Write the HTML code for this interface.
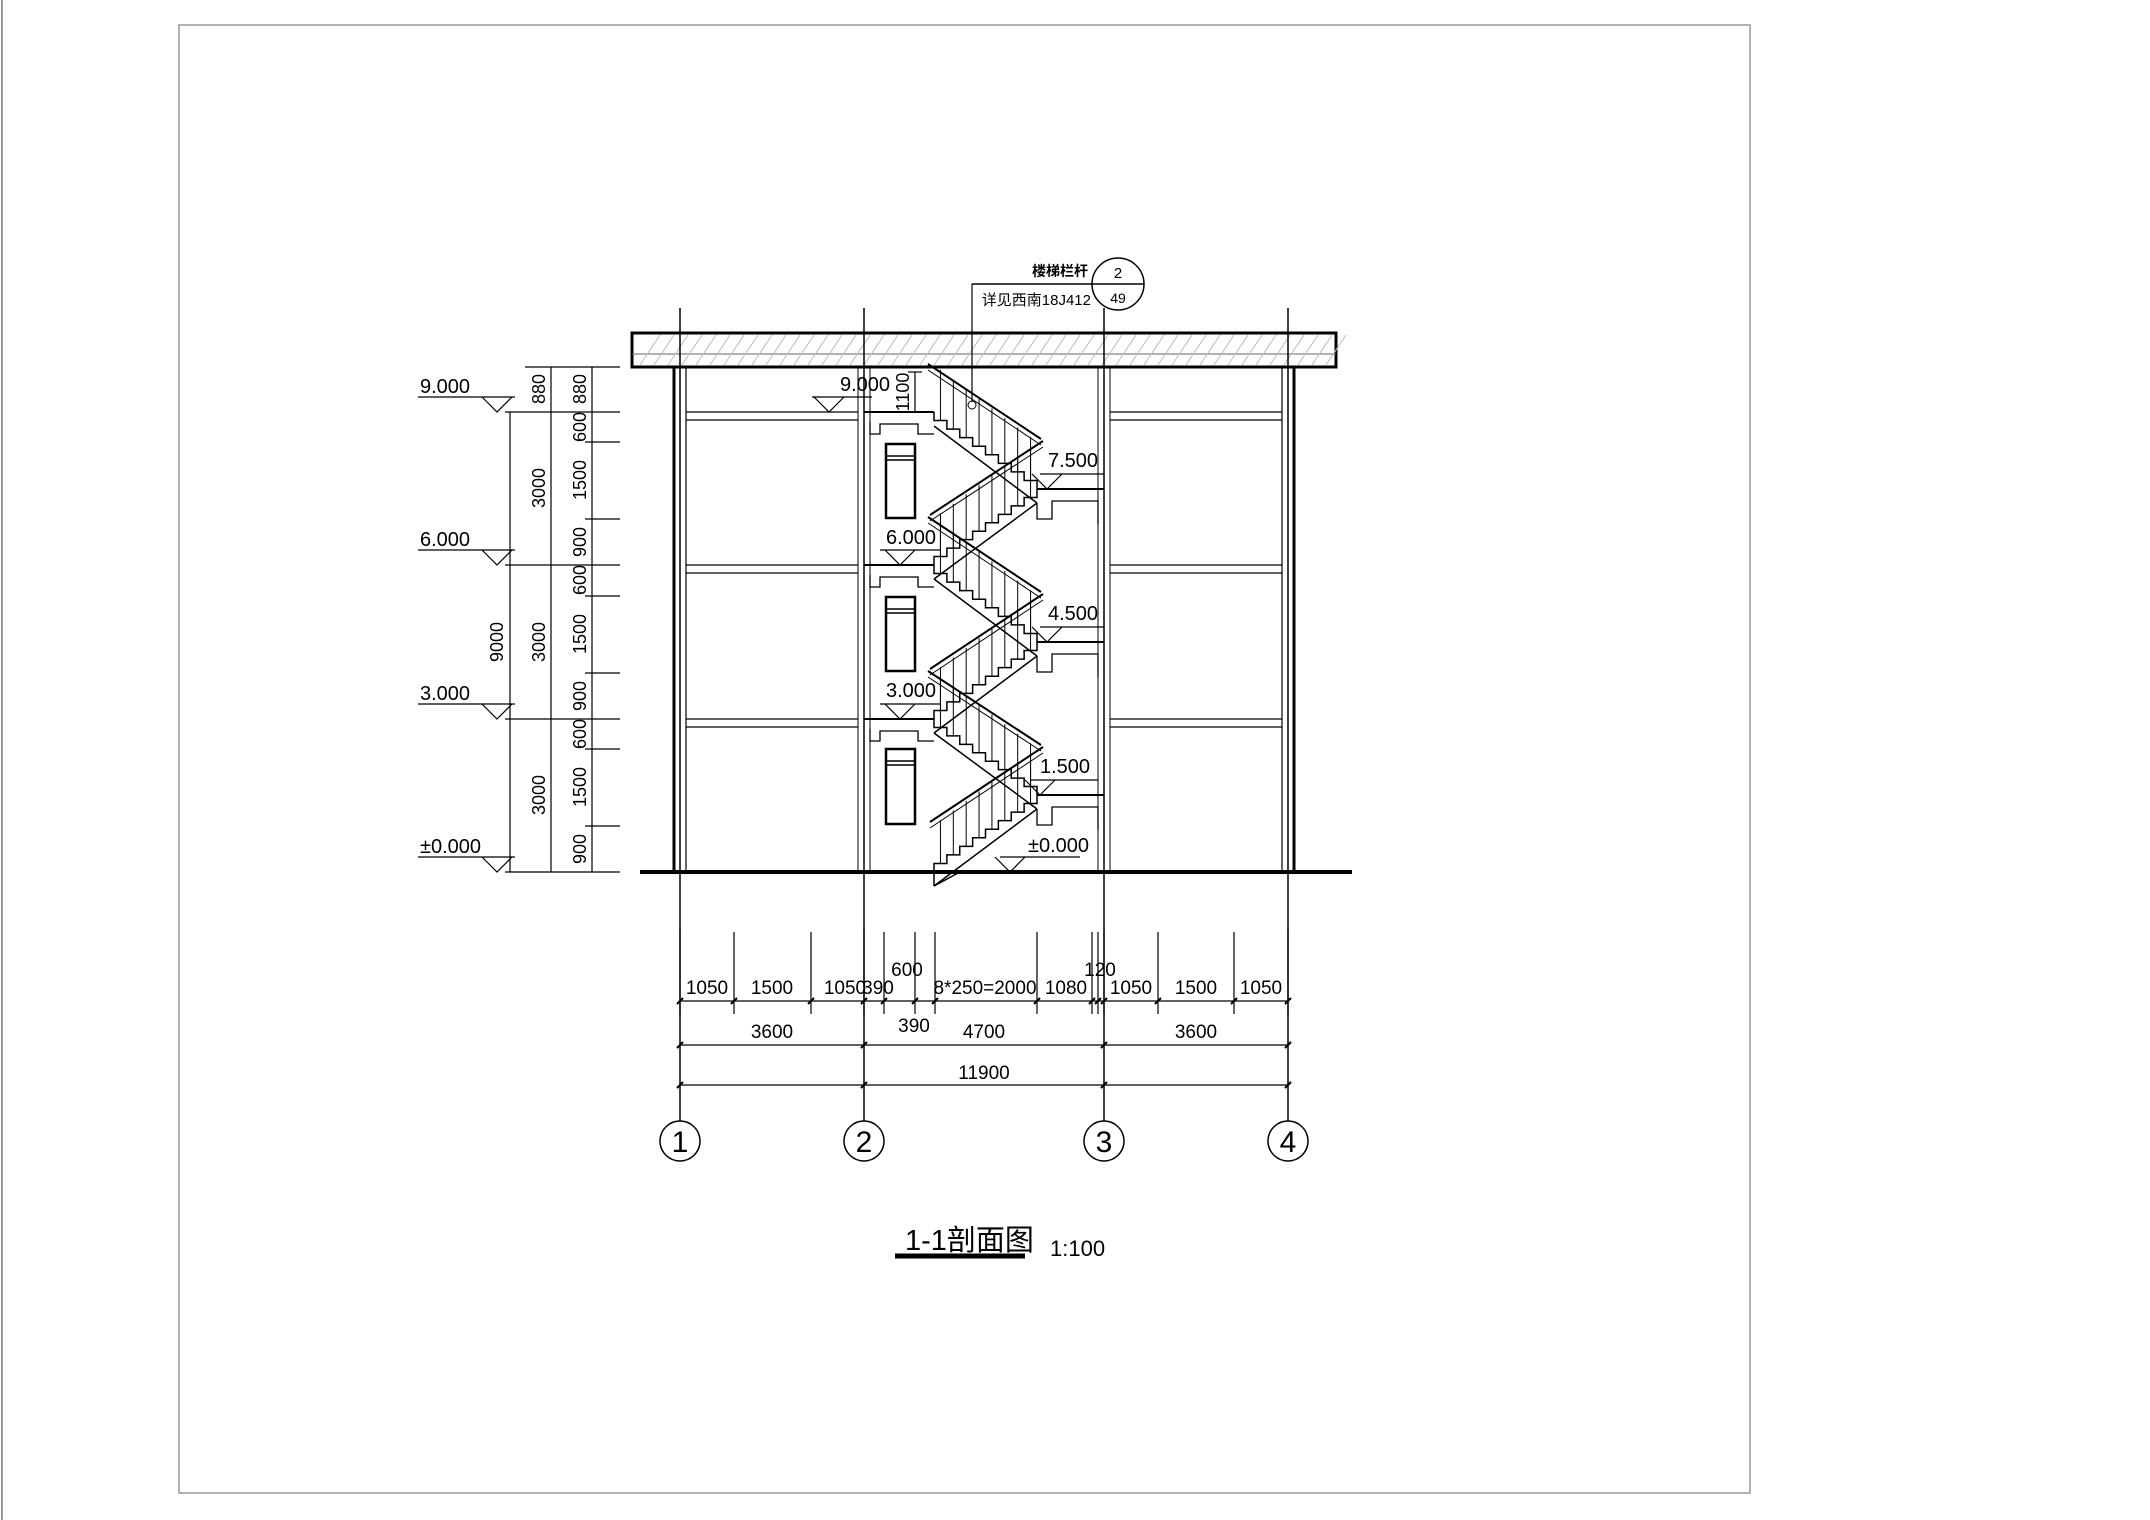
<!DOCTYPE html>
<html><head><meta charset="utf-8"><style>
html,body{margin:0;padding:0;background:#fff;}
svg{display:block}
text{font-family:"Liberation Sans Narrow","Liberation Sans","Noto Sans CJK SC",sans-serif;fill:#000}
</style></head><body>
<svg id="s" width="2150" height="1520" viewBox="0 0 2150 1520" xmlns="http://www.w3.org/2000/svg">
<rect x="0" y="0" width="2150" height="1520" fill="#fff"/>
<line x1="2" y1="0" x2="2" y2="1520" stroke="#999" stroke-width="2"/>
<rect x="179" y="25" width="1571" height="1468" fill="none" stroke="#999" stroke-width="1.5"/>

<g stroke="#000" fill="none">
<rect x="632" y="333" width="704" height="34" stroke-width="3"/>
<line x1="632" y1="354" x2="1336" y2="354" stroke-width="1" stroke="#666"/>
<g id="hatch" stroke="#bbb" stroke-width="1"></g>
<polyline points="674,367 674,872" stroke-width="3"/>
<line x1="686" y1="367" x2="686" y2="872" stroke-width="1.2"/>
<polyline points="1294,367 1294,872" stroke-width="3"/>
<line x1="1282" y1="367" x2="1282" y2="872" stroke-width="1.2"/>
<line x1="640" y1="872" x2="1352" y2="872" stroke-width="4"/>
<line x1="680" y1="308" x2="680" y2="1121" stroke-width="1.5"/>
<line x1="864" y1="308" x2="864" y2="1121" stroke-width="1.5"/>
<line x1="1104" y1="308" x2="1104" y2="1121" stroke-width="1.5"/>
<line x1="1288" y1="308" x2="1288" y2="1121" stroke-width="1.5"/>
<line x1="858" y1="367" x2="858" y2="872" stroke-width="1"/>
<line x1="870" y1="367" x2="870" y2="872" stroke-width="1"/>
<line x1="1098" y1="367" x2="1098" y2="872" stroke-width="1"/>
<line x1="1110" y1="367" x2="1110" y2="872" stroke-width="1"/>
<g stroke-width="1.2">
<line x1="686" y1="412" x2="858" y2="412"/><line x1="686" y1="420" x2="858" y2="420"/>
<line x1="686" y1="565" x2="858" y2="565"/><line x1="686" y1="573" x2="858" y2="573"/>
<line x1="686" y1="719" x2="858" y2="719"/><line x1="686" y1="727" x2="858" y2="727"/>
<line x1="1110" y1="412" x2="1282" y2="412"/><line x1="1110" y1="420" x2="1282" y2="420"/>
<line x1="1110" y1="565" x2="1282" y2="565"/><line x1="1110" y1="573" x2="1282" y2="573"/>
<line x1="1110" y1="719" x2="1282" y2="719"/><line x1="1110" y1="727" x2="1282" y2="727"/>
</g>
<g stroke-width="2.5">
<rect x="886" y="444" width="29" height="74"/><rect x="886" y="597" width="29" height="74"/><rect x="886" y="749" width="29" height="75"/>
</g>
<g stroke-width="1.5">
<line x1="886" y1="456" x2="915" y2="456"/><line x1="886" y1="460" x2="915" y2="460"/>
<line x1="886" y1="609" x2="915" y2="609"/><line x1="886" y1="613" x2="915" y2="613"/>
<line x1="886" y1="761" x2="915" y2="761"/><line x1="886" y1="765" x2="915" y2="765"/>
</g>
<g id="stairs" stroke-width="1.5"></g>
<line x1="972" y1="284" x2="1092" y2="284" stroke-width="1.5"/>
<line x1="972" y1="284" x2="972" y2="402" stroke-width="1.2"/>
<circle cx="972" cy="405" r="4" stroke-width="1"/>
<circle cx="1118" cy="284" r="26" stroke-width="1.5"/>
<line x1="1092" y1="284" x2="1144" y2="284" stroke-width="1.5"/>
<line x1="915" y1="372" x2="915" y2="412" stroke-width="1.2"/>
<line x1="908" y1="372" x2="922" y2="372" stroke-width="1.2"/>
<line x1="908" y1="412" x2="922" y2="412" stroke-width="1.2"/>
<g stroke-width="1.2">
<line x1="510" y1="412" x2="510" y2="872"/>
<line x1="551" y1="367" x2="551" y2="872"/>
<line x1="592" y1="367" x2="592" y2="872"/>
<line x1="525" y1="367" x2="620" y2="367"/>
<line x1="505" y1="412" x2="620" y2="412"/>
<line x1="505" y1="565" x2="620" y2="565"/>
<line x1="505" y1="719" x2="620" y2="719"/>
<line x1="505" y1="872" x2="620" y2="872"/>
<line x1="585" y1="442" x2="620" y2="442"/><line x1="585" y1="519" x2="620" y2="519"/>
<line x1="585" y1="596" x2="620" y2="596"/><line x1="585" y1="673" x2="620" y2="673"/>
<line x1="585" y1="749" x2="620" y2="749"/><line x1="585" y1="826" x2="620" y2="826"/>
</g>
<g id="lv" stroke-width="1.2"></g>
<g stroke-width="1.2">
<line x1="680" y1="1001" x2="1288" y2="1001"/>
<line x1="680" y1="1045" x2="1288" y2="1045"/>
<line x1="680" y1="1085" x2="1288" y2="1085"/>
<g id="ticks"></g>
</g>
<g stroke-width="1.5">
<circle cx="680" cy="1141" r="20"/><circle cx="864" cy="1141" r="20"/><circle cx="1104" cy="1141" r="20"/><circle cx="1288" cy="1141" r="20"/>
</g>
<line x1="895" y1="1256" x2="1025" y2="1256" stroke-width="5"/>
</g>

<g font-size="19">
<text x="1088" y="276" text-anchor="end" font-size="14" font-weight="bold">楼梯栏杆</text>
<text x="1091" y="305" text-anchor="end" font-size="15">详见西南18J412</text>
<text x="1118" y="278" text-anchor="middle" font-size="15">2</text>
<text x="1118" y="303" text-anchor="middle" font-size="14">49</text>

<text x="420" y="393" font-size="20">9.000</text>
<text x="420" y="546" font-size="20">6.000</text>
<text x="420" y="700" font-size="20">3.000</text>
<text x="420" y="853" font-size="20">±0.000</text>
<text x="840" y="391" font-size="20">9.000</text>
<text x="1048" y="467" font-size="20">7.500</text>
<text x="886" y="544" font-size="20">6.000</text>
<text x="1048" y="620" font-size="20">4.500</text>
<text x="886" y="697" font-size="20">3.000</text>
<text x="1040" y="773" font-size="20">1.500</text>
<text x="1028" y="852" font-size="20">±0.000</text>

<g font-size="18">
<text transform="translate(503,642) rotate(-90)" text-anchor="middle">9000</text>
<text transform="translate(545,389) rotate(-90)" text-anchor="middle">880</text>
<text transform="translate(545,488) rotate(-90)" text-anchor="middle">3000</text>
<text transform="translate(545,642) rotate(-90)" text-anchor="middle">3000</text>
<text transform="translate(545,795) rotate(-90)" text-anchor="middle">3000</text>
<text transform="translate(586,389) rotate(-90)" text-anchor="middle">880</text>
<text transform="translate(586,427) rotate(-90)" text-anchor="middle">600</text>
<text transform="translate(586,480) rotate(-90)" text-anchor="middle">1500</text>
<text transform="translate(586,542) rotate(-90)" text-anchor="middle">900</text>
<text transform="translate(586,580) rotate(-90)" text-anchor="middle">600</text>
<text transform="translate(586,634) rotate(-90)" text-anchor="middle">1500</text>
<text transform="translate(586,696) rotate(-90)" text-anchor="middle">900</text>
<text transform="translate(586,734) rotate(-90)" text-anchor="middle">600</text>
<text transform="translate(586,787) rotate(-90)" text-anchor="middle">1500</text>
<text transform="translate(586,849) rotate(-90)" text-anchor="middle">900</text>
<text transform="translate(909,392) rotate(-90)" text-anchor="middle">1100</text>
</g>

<g font-size="19" text-anchor="middle">
<text x="707" y="994">1050</text>
<text x="772" y="994">1500</text>
<text x="845" y="994">1050</text>
<text x="878" y="994">390</text>
<text x="907" y="976">600</text>
<text x="985" y="994">8*250=2000</text>
<text x="1066" y="994">1080</text>
<text x="1100" y="976">120</text>
<text x="1131" y="994">1050</text>
<text x="1196" y="994">1500</text>
<text x="1261" y="994">1050</text>
<text x="914" y="1032">390</text>
<text x="772" y="1038">3600</text>
<text x="984" y="1038">4700</text>
<text x="1196" y="1038">3600</text>
<text x="984" y="1079">11900</text>
</g>
<g font-size="30" text-anchor="middle">
<text x="680" y="1152">1</text><text x="864" y="1152">2</text><text x="1104" y="1152">3</text><text x="1288" y="1152">4</text>
</g>
<text x="905" y="1250" font-size="29">1-1剖面图</text>
<text x="1050" y="1256" font-size="22">1:100</text>
</g>
</svg>
<script>
var NS="http://www.w3.org/2000/svg";
function L(g,x1,y1,x2,y2,w){var l=document.createElementNS(NS,"line");l.setAttribute("x1",x1);l.setAttribute("y1",y1);l.setAttribute("x2",x2);l.setAttribute("y2",y2);if(w)l.setAttribute("stroke-width",w);g.appendChild(l);}
function P(g,pts,w){var p=document.createElementNS(NS,"polyline");p.setAttribute("points",pts);if(w)p.setAttribute("stroke-width",w);g.appendChild(p);}
var h=document.getElementById("hatch");
for(var x=640;x<1340;x+=14){L(h,x,365,x+20,335);}
var s=document.getElementById("stairs");
var lv=[872,795,719,642,565,489,412];
var XL=934,XR=1037;
for(var i=0;i<6;i++){
 var yb=lv[i],yt=lv[i+1];var up=(i%2==0);
 var r=(yb-yt)/9,t=(XR-XL)/8;
 var pts=[],bx=up?XL:XR,dir=up?1:-1,y=yb,x=bx;
 pts.push(x+","+y);
 for(var k=0;k<9;k++){y-=r;pts.push(x+","+y);if(k<8){x+=dir*t;pts.push(x+","+y);}}
 P(s,pts.join(" "),1.5);
 var sx=up?XL:XR, ex=up?XR:XL;
 L(s,sx,yb+14,ex,yt+14,1.5);
 L(s,sx-dir*4,yb-50,ex+dir*6,yt-48,2);
 L(s,sx-dir*4,yb-44,ex+dir*6,yt-42,1);
 for(var k=0;k<8;k++){var bx2=sx+dir*(k*t+t/2);var by=yb-(k+1)*r;var hy=yb-50+(yt-yb)*((k*t+t/2)/(XR-XL));L(s,bx2,by,bx2,hy+3,1);}
}
[795,642,489].forEach(function(y){P(s,"1037,"+y+" 1104,"+y,2);P(s,"1037,"+(y+14)+" 1037,"+(y+30)+" 1052,"+(y+30)+" 1052,"+(y+12)+" 1098,"+(y+12)+" 1098,"+(y+35),1.3);});
[719,565,412].forEach(function(y){P(s,"864,"+y+" 934,"+y,2);P(s,"870,"+(y+10)+" 870,"+(y+22)+" 880,"+(y+22)+" 880,"+(y+12)+" 918,"+(y+12)+" 918,"+(y+22)+" 934,"+(y+22),1.3);});
L(s,934,872,934,886,1.5);L(s,934,886,960,872,1.5);
var g=document.getElementById("lv");
function M(ax,y,x1,x2){L(g,x1,y-15,x2,y-15);P(g,(ax-15)+","+(y-15)+" "+ax+","+y+" "+(ax+15)+","+(y-15));}
M(497,412,418,515);M(497,565,418,515);M(497,719,418,515);M(497,872,418,515);
M(829,412,812,872);M(1047,489,1040,1104);M(900,565,880,940);M(1047,642,1040,1104);M(900,719,880,940);M(1040,795,1030,1098);M(1010,872,1000,1080);
var tk=document.getElementById("ticks");
[680,734,811,864,884,915,935,1037,1092,1098,1104,1158,1234,1288].forEach(function(x){L(tk,x,932,x,1014);L(tk,x-3,1004,x+3,998,2);});
[680,864,1104,1288].forEach(function(x){L(tk,x-3,1048,x+3,1042,2);L(tk,x-3,1088,x+3,1082,2);});
</script>
</body></html>
